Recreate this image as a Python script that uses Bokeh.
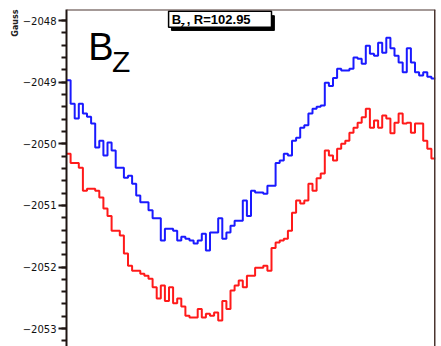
from bokeh.plotting import figure
from bokeh.models import Span, Title, SingleIntervalTicker, Range1d, Label
from bokeh.embed import file_html
from bokeh.resources import INLINE

# Bz measured per bin (Gauss)
blue_vals = [-2048.97, -2049.35, -2049.59, -2049.35, -2049.51, -2049.56, -2049.67, -2050.06, -2049.95, -2050.19,
             -2049.98, -2050.11, -2050.39, -2050.39, -2050.55, -2050.52, -2050.65, -2050.84, -2050.95, -2050.95,
             -2051.08, -2051.21, -2051.21, -2051.57, -2051.38, -2051.38, -2051.41, -2051.57, -2051.51, -2051.54,
             -2051.57, -2051.62, -2051.57, -2051.46, -2051.73, -2051.44, -2051.44, -2051.21, -2051.54, -2051.44,
             -2051.33, -2051.25, -2051.25, -2050.92, -2051.17, -2050.76, -2050.79, -2050.79, -2050.81, -2050.68,
             -2050.68, -2050.31, -2050.27, -2050.16, -2050.19, -2049.95, -2049.90, -2049.74, -2049.70, -2049.51,
             -2049.43, -2049.40, -2049.38, -2049.01, -2049.06, -2048.93, -2048.78, -2048.81, -2048.81, -2048.78,
             -2048.60, -2048.62, -2048.70, -2048.41, -2048.54, -2048.57, -2048.36, -2048.52, -2048.28, -2048.45,
             -2048.57, -2048.68, -2048.84, -2048.45, -2048.68, -2048.84, -2048.89, -2048.84, -2048.91, -2048.94]

red_vals = [-2050.16, -2050.31, -2050.31, -2050.39, -2050.76, -2050.73, -2050.73, -2050.76, -2050.87, -2051.05,
            -2051.17, -2051.41, -2051.41, -2051.49, -2051.78, -2051.98, -2052.06, -2052.06, -2052.11, -2052.14,
            -2052.19, -2052.33, -2052.51, -2052.30, -2052.55, -2052.33, -2052.59, -2052.51, -2052.64, -2052.79,
            -2052.82, -2052.82, -2052.68, -2052.82, -2052.76, -2052.79, -2052.74, -2052.87, -2052.55, -2052.68,
            -2052.38, -2052.30, -2052.22, -2052.33, -2052.14, -2052.14, -2052.01, -2052.01, -2051.98, -2052.06,
            -2051.69, -2051.60, -2051.57, -2051.54, -2051.41, -2051.12, -2050.92, -2050.97, -2050.92, -2050.65,
            -2050.76, -2050.56, -2050.48, -2050.11, -2050.19, -2050.27, -2050.08, -2050.00, -2049.95, -2049.82,
            -2049.74, -2049.66, -2049.57, -2049.43, -2049.74, -2049.62, -2049.74, -2049.54, -2049.59, -2049.83,
            -2049.66, -2049.51, -2049.67, -2049.66, -2049.82, -2049.67, -2049.67, -2049.95, -2050.08, -2050.24]

y_axis_title = "Gauss"
big_label_main = "B"
big_label_sub = "Z"
box_main = "B"
box_sub = "z"
box_rest = ", R=102.95"

n = len(blue_vals)
x_lo, x_hi = 0.0, float(n)
y_lo, y_hi = -2053.29, -2047.82

p = figure(width=441, height=346, output_backend="svg", toolbar_location=None,
           x_axis_location=None, x_range=Range1d(x_lo, x_hi), y_range=Range1d(y_lo, y_hi),
           min_border_left=66, min_border_top=9, min_border_right=6, min_border_bottom=0,
           background_fill_color="white", border_fill_color="white", outline_line_color=None)
p.xgrid.visible = False
p.ygrid.visible = False

ax = p.yaxis[0]
ax.ticker = SingleIntervalTicker(interval=1, num_minor_ticks=5)
ax.axis_line_color = "#1e1512"
ax.axis_line_width = 2
ax.major_tick_line_color = "#1e1512"
ax.major_tick_line_width = 2
ax.major_tick_out = 8
ax.major_tick_in = 0
ax.minor_tick_line_color = "#1e1512"
ax.minor_tick_line_width = 2
ax.minor_tick_out = 5
ax.minor_tick_in = 0
ax.major_label_text_font = "DejaVu Sans"
ax.major_label_text_font_size = "10px"
ax.major_label_text_color = "#111111"
ax.major_label_standoff = 2

p.add_layout(Title(text=y_axis_title, align="right", text_font="DejaVu Sans",
                   text_font_size="8px", text_font_style="bold", text_color="#222222",
                   standoff=0), "left")

# top and right frame lines
p.add_layout(Span(location=y_hi, dimension="width", line_color="#4a3530", line_width=2))
p.add_layout(Span(location=x_hi, dimension="height", line_color="#4a3530", line_width=3))

xs = list(range(n + 1))
p.step(xs, blue_vals + [blue_vals[-1]], mode="after", line_color="#1a1aff", line_width=2)
p.step(xs, red_vals + [red_vals[-1]], mode="after", line_color="#ff1a1a", line_width=2)

# big B_Z label
p.add_layout(Label(x=5.3, y=-2048.43, text=big_label_main, text_font="Liberation Sans",
                   text_font_size="38px", text_color="black", text_baseline="middle"))
p.add_layout(Label(x=11.1, y=-2048.67, text=big_label_sub, text_font="Liberation Sans",
                   text_font_size="30px", text_color="black", text_baseline="middle"))

# title box with shadow
p.quad(left=[25.6], right=[50.7], top=[-2047.92], bottom=[-2048.16], fill_color="black", line_color="black")
p.quad(left=[24.9], right=[50.0], top=[-2047.85], bottom=[-2048.11], fill_color="white",
       line_color="black", line_width=1.5)
p.add_layout(Label(x=25.7, y=-2047.99, text=box_main, text_font="Liberation Sans",
                   text_font_size="13px", text_font_style="bold", text_color="black",
                   text_baseline="middle"))
p.add_layout(Label(x=27.8, y=-2048.07, text=box_sub, text_font="Liberation Sans",
                   text_font_size="9px", text_font_style="bold", text_color="black",
                   text_baseline="middle"))
p.add_layout(Label(x=29.3, y=-2047.99, text=box_rest, text_font="Liberation Sans",
                   text_font_size="13px", text_font_style="bold", text_color="black",
                   text_baseline="middle"))

open("out.html", "w").write(file_html(p, INLINE))
